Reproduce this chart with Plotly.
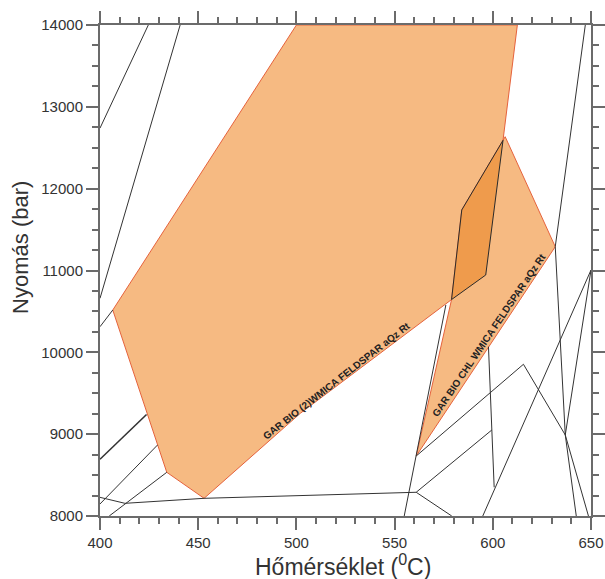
import plotly.graph_objects as go

# --- Data (temperature °C, pressure bar) ---
big_T = [500, 612.5, 605.2, 596.4, 579.0, 502.0, 453.0, 434.0, 406.5, 500]
big_P = [14000, 14000, 12590, 10945, 10645, 9255, 8216, 8534, 10517, 14000]

small_T = [561.0, 579.0, 584.2, 605.2, 606.3, 631.8, 561.0]
small_P = [8733, 10645, 11740, 12590, 12635, 11291, 8733]

overlap_T = [605.2, 584.2, 579.0, 596.4, 605.2]
overlap_P = [12590, 11740, 10645, 10945, 12590]

# black reaction lines
lines = [
    ([400, 424.6], [12740, 14000]),
    ([400, 440.8], [10660, 14000]),
    ([400, 406.5], [10313, 10517]),
    ([400, 423.7], [8693, 9240]),
    ([400, 429.3], [8147, 8868]),
    ([404.7, 434.0], [8000, 8534]),
    ([400, 412.7, 453.0, 561.0], [8228, 8155, 8216, 8290]),
    ([554.9, 561.0, 576.1], [8000, 8733, 10579]),
    ([561.0, 615.6, 636.9, 648.7], [8733, 9854, 8990, 8000]),
    ([561.0, 599.5], [8290, 9051]),
    ([597.8, 600.7], [10069, 8351]),
    ([594.9, 650.0], [8000, 11006]),
    ([631.8, 636.9, 642.5], [11291, 8990, 8000]),
    ([647.1, 631.8], [14000, 11291]),
    ([650.0, 636.9], [11006, 8990]),
    ([561.0, 579.1], [8290, 8000]),
]
thick_line = 3

labels = ["GAR BIO (2)WMICA FELDSPAR aQz Rt", "GAR BIO CHL WMICA FELDSPAR aQz Rt"]
label_T = [520.6, 598.3]
label_P = [9652, 10212]
label_angle = [-38, -56]

x_title = "Hőmérséklet (<sup>0</sup>C)"
y_title = "Nyomás (bar)"

x_range = [400, 650]
y_range = [8000, 14000]

fill_light = "#F6BA82"
fill_dark = "#EF9B4C"
edge_col = "#E5623C"
line_col = "#333333"
axis_col = "#6b6b6b"
font_fam = "Liberation Sans, Arial, sans-serif"

fig = go.Figure()
fig.add_trace(go.Scatter(x=big_T, y=big_P, fill="toself", fillcolor=fill_light,
                         mode="lines", line=dict(color=edge_col, width=1),
                         hoverinfo="skip", showlegend=False))
fig.add_trace(go.Scatter(x=small_T, y=small_P, fill="toself", fillcolor=fill_light,
                         mode="lines", line=dict(color=edge_col, width=1),
                         hoverinfo="skip", showlegend=False))
fig.add_trace(go.Scatter(x=overlap_T, y=overlap_P, fill="toself", fillcolor=fill_dark,
                         mode="lines", line=dict(color="#2a2a2a", width=1),
                         hoverinfo="skip", showlegend=False))
for i, (lx, ly) in enumerate(lines):
    fig.add_trace(go.Scatter(x=lx, y=ly, mode="lines",
                             line=dict(color=line_col, width=1.6 if i == thick_line else 1),
                             hoverinfo="skip", showlegend=False))

for t, xx, yy, a in zip(labels, label_T, label_P, label_angle):
    fig.add_annotation(x=xx, y=yy, text="<b>" + t + "</b>", showarrow=False,
                       textangle=a, font=dict(family=font_fam, size=10, color="#222222"),
                       xanchor="center", yanchor="middle")

# axis titles
fig.add_annotation(xref="paper", yref="paper", x=0.494, y=-0.099, text=x_title,
                   showarrow=False, xanchor="center", yanchor="middle",
                   font=dict(family=font_fam, size=23, color="#333333"))
fig.add_annotation(xref="paper", yref="paper", x=-0.161, y=0.548, text=y_title,
                   showarrow=False, xanchor="center", yanchor="middle", textangle=-90,
                   font=dict(family=font_fam, size=22, color="#333333"))

fig.update_xaxes(range=x_range, dtick=50, tick0=400, ticks="outside", ticklen=12,
                 tickwidth=1.5, tickcolor=axis_col, showline=True, linecolor=axis_col,
                 linewidth=2, mirror="ticks", showgrid=False, zeroline=False,
                 automargin=False,
                 minor=dict(dtick=10, ticks="outside", ticklen=6, tickwidth=1.5,
                            tickcolor=axis_col, showgrid=False),
                 tickfont=dict(family=font_fam, size=15, color="#333333"))
fig.update_yaxes(range=y_range, dtick=1000, tick0=8000, ticks="outside", ticklen=12,
                 tickwidth=1.5, tickcolor=axis_col, showline=True, linecolor=axis_col,
                 linewidth=2, mirror="ticks", showgrid=False, zeroline=False,
                 tickformat="d", automargin=False,
                 minor=dict(dtick=250, ticks="outside", ticklen=6, tickwidth=1.5,
                            tickcolor=axis_col, showgrid=False),
                 tickfont=dict(family=font_fam, size=15, color="#333333"))

fig.update_layout(width=605, height=579, margin=dict(l=100, r=14, t=25, b=63),
                  paper_bgcolor="white", plot_bgcolor="white")

# remove the default page margin so the figure sits at the window's corner
fig.write_html("out.html", config={"displayModeBar": False},
               post_script="document.body.style.margin='0';document.body.style.overflow='hidden';")
